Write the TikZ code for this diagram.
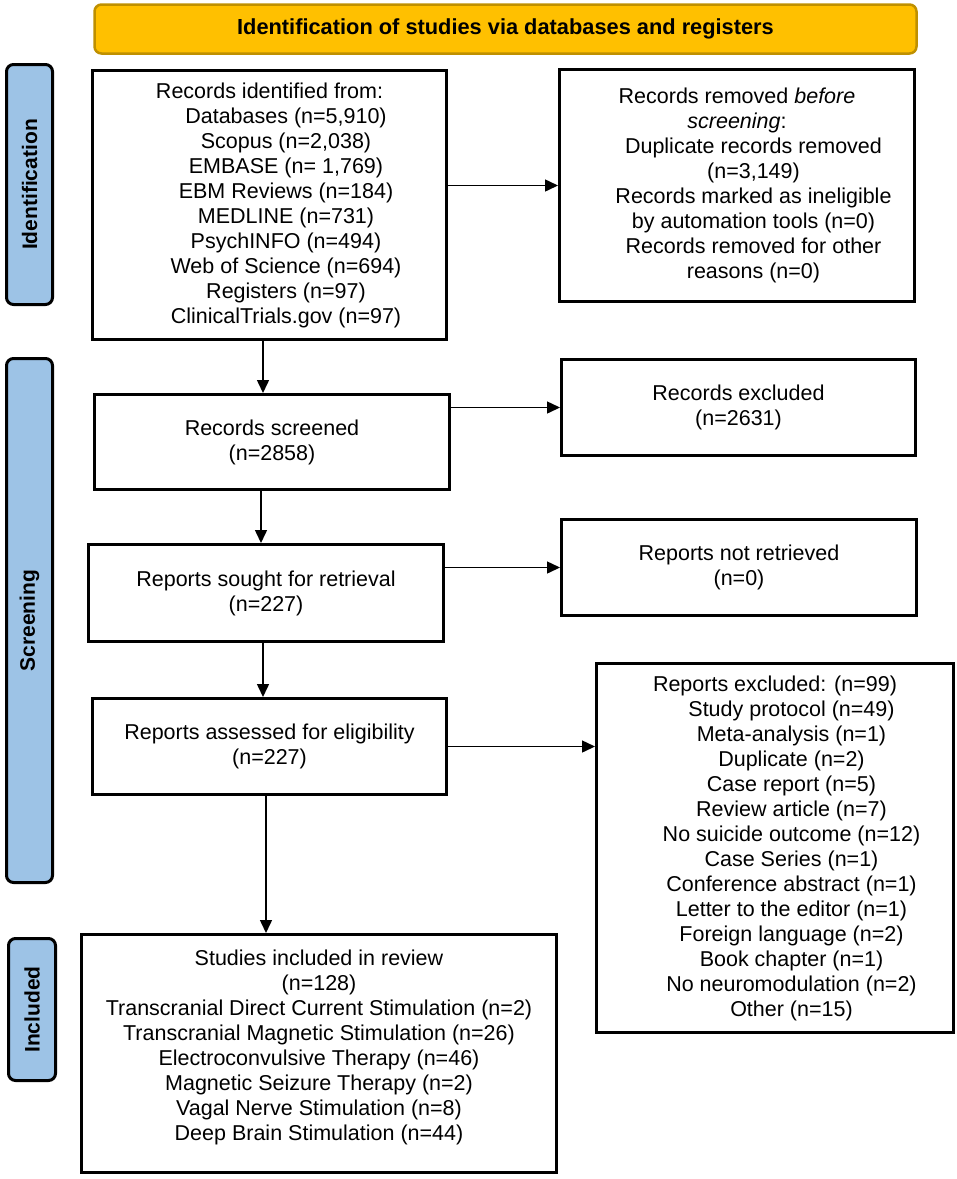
\documentclass[tikz,border=0pt]{standalone}
\usepackage{fontspec}
\setmainfont{Liberation Sans}
\usetikzlibrary{arrows.meta}
\definecolor{bannerfill}{HTML}{FFC000}
\definecolor{bannerline}{HTML}{BF9000}
\definecolor{phaseblue}{HTML}{9DC3E6}
\tikzset{
  box/.style={draw=black, line width=3pt, fill=white, align=center,
    font=\fontsize{21.5}{25}\selectfont, inner sep=0pt},
  txt/.style={align=center, font=\fontsize{21.5}{25}\selectfont, inner sep=0pt},
  phase/.style={draw=black, line width=3pt, fill=phaseblue, rounded corners=7pt,
    font=\bfseries\fontsize{21}{25}\selectfont, text=black, inner sep=0pt},
  banner/.style={draw=bannerline, line width=2.5pt, fill=bannerfill, rounded corners=7pt,
    font=\bfseries\fontsize{21.8}{25}\selectfont, inner sep=0pt},
  arr/.style={-{Triangle[length=13pt,width=12pt]}, line width=1.5pt}
}
\newcommand{\ind}{\hspace*{33pt}}
\begin{document}
\begin{tikzpicture}[x=1pt,y=-1pt]
\useasboundingbox (0,0) rectangle (957,1179);
% banner
\node[banner, minimum width=822, minimum height=49] (banner) at (505.5,29)
  {Identification of studies via databases and registers};
% phase bars
\node[phase, rotate=90, minimum width=240, minimum height=46] (idbar) at (29.5,184.5) {Identification};
\node[phase, rotate=90, minimum width=524, minimum height=46] (scrbar) at (29.5,620.5) {Screening};
\node[phase, rotate=90, minimum width=142, minimum height=47] (incbar) at (32,1009.5) {Included};
% boxes
\node[box, minimum width=354, minimum height=269] (records) at (269.5,205)
  {Records identified from:\\
   \ind Databases (n=5,910)\\
   \ind Scopus (n=2,038)\\
   \ind EMBASE (n= 1,769)\\
   \ind EBM Reviews (n=184)\\
   \ind MEDLINE (n=731)\\
   \ind PsychINFO (n=494)\\
   \ind Web of Science (n=694)\\
   \ind Registers (n=97)\\
   \ind ClinicalTrials.gov (n=97)};
\node[box, minimum width=355, minimum height=232] (removed) at (737,185.5)
  {Records removed \textit{before}\\
   \textit{screening}:\\
   \ind Duplicate records removed\\
   \ind (n=3,149)\\
   \ind Records marked as ineligible\\
   \ind by automation tools (n=0)\\
   \ind Records removed for other\\
   \ind reasons (n=0)};
\node[box, minimum width=355, minimum height=95] (screened) at (272,442)
  {Records screened\\(n=2858)};
\node[box, minimum width=354, minimum height=96] (excluded) at (738.5,407.5)
  {Records excluded\\(n=2631)};
\node[box, minimum width=355, minimum height=97] (sought) at (266,593)
  {Reports sought for retrieval\\(n=227)};
\node[box, minimum width=355, minimum height=96] (notretr) at (739,567.5)
  {Reports not retrieved\\(n=0)};
\node[box, minimum width=354, minimum height=96] (assessed) at (269.5,746.5)
  {Reports assessed for eligibility\\(n=227)};
\node[box, minimum width=357, minimum height=369] (repexcl) at (775,848)
  {Reports excluded: (n=99)\\
   \ind Study protocol (n=49)\\
   \ind Meta-analysis (n=1)\\
   \ind Duplicate (n=2)\\
   \ind Case report (n=5)\\
   \ind Review article (n=7)\\
   \ind No suicide outcome (n=12)\\
   \ind Case Series (n=1)\\
   \ind Conference abstract (n=1)\\
   \ind Letter to the editor (n=1)\\
   \ind Foreign language (n=2)\\
   \ind Book chapter (n=1)\\
   \ind No neuromodulation (n=2)\\
   \ind Other (n=15)};
\node[box, minimum width=475, minimum height=238] (included) at (319,1053.5) {};
\node[txt] (inctext) at (319,1047.5)
  {Studies included in review\\
   (n=128)\\
   Transcranial Direct Current Stimulation (n=2)\\
   Transcranial Magnetic Stimulation (n=26)\\
   Electroconvulsive Therapy (n=46)\\
   Magnetic Seizure Therapy (n=2)\\
   Vagal Nerve Stimulation (n=8)\\
   Deep Brain Stimulation (n=44)};
% connectors
\draw[arr] ([xshift=-6.5pt]records.south) -- ([xshift=-6.5pt]records.south |- screened.north);
\draw[arr] (records.east |- removed.west) -- (removed.west);
\draw[arr] (screened.east |- excluded.west) -- (excluded.west);
\draw[arr] ([xshift=-11pt]screened.south) -- ([xshift=-11pt]screened.south |- sought.north);
\draw[arr] (sought.east |- notretr.west) -- (notretr.west);
\draw[arr] ([xshift=-3pt]sought.south) -- ([xshift=-3pt]sought.south |- assessed.north);
\draw[arr] (assessed.east) -- (assessed.east -| repexcl.west);
\draw[arr] ([xshift=-3.5pt]assessed.south) -- ([xshift=-3.5pt]assessed.south |- included.north);
\end{tikzpicture}
\end{document}
